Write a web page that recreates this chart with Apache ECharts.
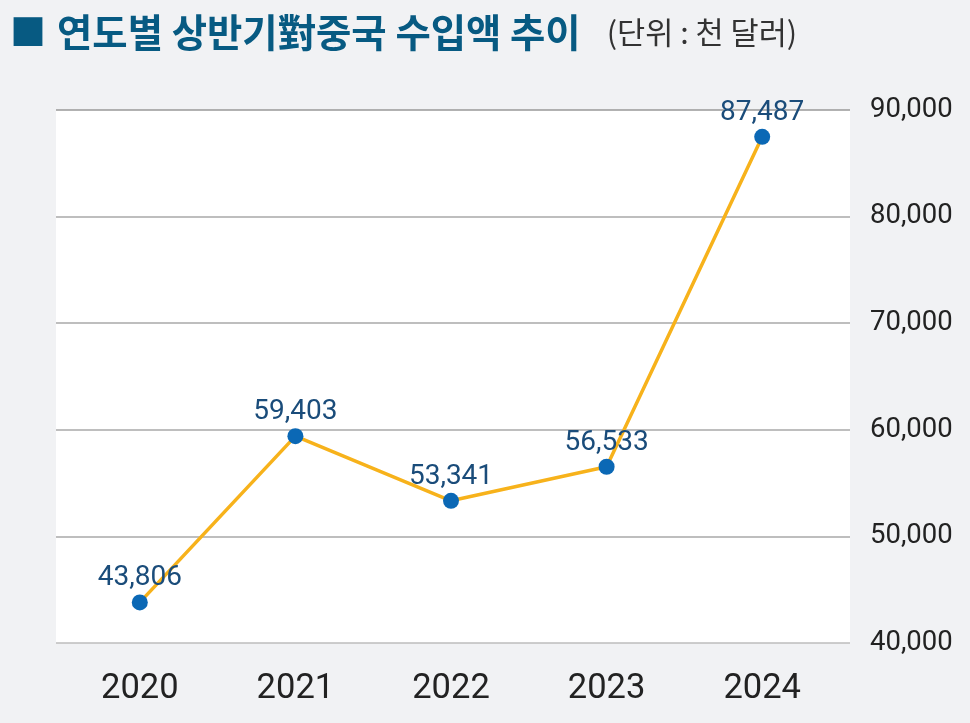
<!DOCTYPE html>
<html>
<head>
<meta charset="utf-8">
<script src="https://cdn.jsdelivr.net/npm/echarts@6/dist/echarts.min.js"></script>
<style>
  html, body { margin: 0; padding: 0; background: #f1f2f4; }
  #main { width: 970px; height: 723px; }
</style>
</head>
<body>
<div id="main"></div>
<script>
// 데이터
const years = ['2020', '2021', '2022', '2023', '2024'];
const imports = [43806, 59403, 53341, 56533, 87487];
const yMin = 40000;
const yMax = 90000;
const yStep = 10000;

const font = 'Roboto, "Noto Sans CJK KR", sans-serif';
const chart = echarts.init(document.getElementById('main'));

chart.setOption({
    backgroundColor: '#f1f2f4',
    title: {
        left: 5,
        top: 8,
        text: '{sq|■}{t|연도별 상반기對중국 수입액 추이}{s|(단위 : 천 달러)}',
        textStyle: {
            rich: {
                sq: { fontSize: 36, fontWeight: 'normal', color: '#075a82', fontFamily: '"Noto Sans CJK KR"' },
                t: { fontSize: 38.4, fontWeight: 'bold', color: '#075a82', fontFamily: '"Noto Sans CJK KR"', padding: [0, 0, 0, 11] },
                s: { fontSize: 30.6, fontWeight: 'normal', color: '#333', fontFamily: '"Noto Sans CJK KR"', padding: [0, 0, 0, 26] }
            }
        }
    },
    // grid 0: 흰 배경 + 눈금선, grid 1: 실제 선 그래프
    grid: [
        { left: 56, right: 120, top: 110, bottom: 80, show: true, backgroundColor: '#fff', borderWidth: 0 },
        { left: 62, right: 130, top: 110, bottom: 80 }
    ],
    xAxis: [
        { gridIndex: 0, type: 'category', data: years, show: false },
        {
            gridIndex: 1,
            type: 'category',
            data: years,
            axisLine: { show: false },
            axisTick: { show: false },
            axisLabel: { fontSize: 34.5, color: '#222', margin: 29, fontFamily: font }
        }
    ],
    yAxis: [
        {
            gridIndex: 0,
            type: 'value',
            position: 'right',
            min: yMin,
            max: yMax,
            interval: yStep,
            axisLine: { show: false },
            axisTick: { show: false },
            axisLabel: {
                fontSize: 27.5,
                color: '#222',
                margin: 20,
                fontFamily: font,
                formatter: v => v.toLocaleString('en-US')
            },
            splitLine: {
                lineStyle: {
                    color: ['#bdbdbd', '#a9a9a9', '#a9a9a9', '#a9a9a9', '#a9a9a9', '#999'],
                    width: 1.5
                }
            }
        },
        {
            gridIndex: 1,
            type: 'value',
            min: yMin,
            max: yMax,
            interval: yStep,
            show: false,
            splitLine: { show: false }
        }
    ],
    series: [
        {
            name: '수입액',
            type: 'line',
            xAxisIndex: 1,
            yAxisIndex: 1,
            data: imports,
            symbol: 'circle',
            symbolSize: 16,
            itemStyle: { color: '#0b68b5' },
            lineStyle: { color: '#f7b21b', width: 3.5 },
            label: {
                show: true,
                position: 'top',
                distance: 2,
                fontSize: 28,
                color: '#1a4c7a',
                fontFamily: font,
                formatter: p => p.value.toLocaleString('en-US')
            },
            z: 3
        }
    ]
});
</script>
</body>
</html>
